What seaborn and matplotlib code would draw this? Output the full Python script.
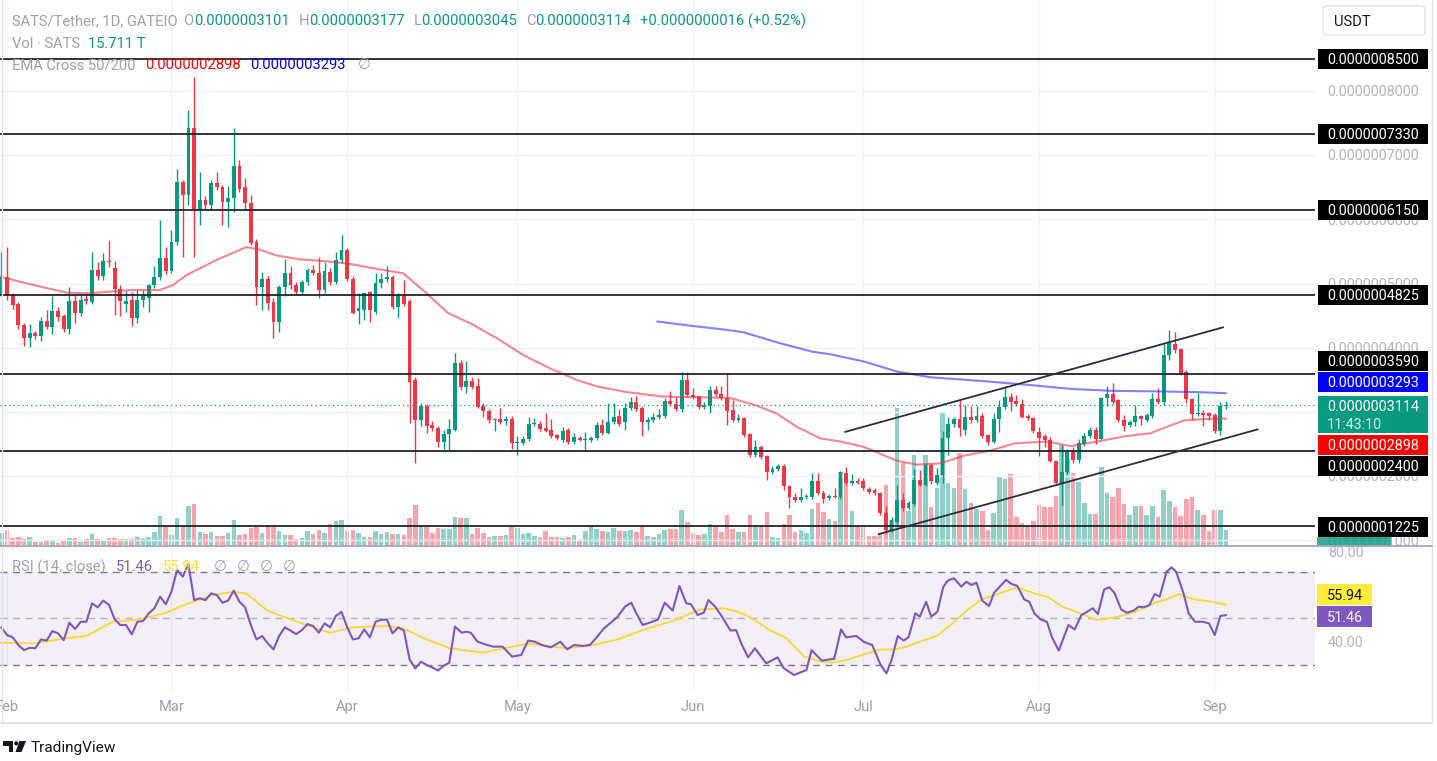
import numpy as np
import pandas as pd
import matplotlib
matplotlib.use("Agg")
import matplotlib.pyplot as plt
import seaborn as sns
from matplotlib.patches import Rectangle, FancyBboxPatch, Polygon, Circle
from matplotlib.font_manager import FontProperties

# ---------------- data ----------------
# SATS/USDT daily candles, prices in units of 1e-8 USDT.
# day 0 = 2024-02-01, first candle is day -1 (2024-01-31)
base_date = "2024-02-01"
opens = [48.2, 51.0, 48.2, 46.9, 43.6, 41.6, 42.3, 41.8, 44.2, 43.3,
         45.7, 44.9, 43.0, 47.3, 45.4, 47.6, 47.2, 52.1, 51.2, 53.5,
         52.5, 49.2, 46.9, 47.4, 44.6, 47.5, 47.7, 49.8, 51.1, 54.0,
         52.0, 56.5, 65.9, 63.8, 74.2, 61.7, 63.0, 62.2, 65.7, 65.0,
         62.7, 63.4, 68.3, 65.1, 62.6, 56.5, 49.5, 50.8, 47.2, 44.1,
         49.5, 51.7, 49.8, 48.7, 50.3, 52.2, 51.6, 49.0, 51.8, 50.3,
         53.7, 55.2, 50.8, 45.7, 45.9, 48.7, 45.6, 50.1, 50.8, 51.1,
         46.4, 48.0, 47.3, 35.0, 28.8, 30.9, 28.0, 27.5, 25.4, 26.6,
         27.2, 37.6, 33.9, 34.9, 34.0, 30.9, 30.2, 28.7, 28.9, 28.6,
         28.9, 25.2, 25.2, 25.8, 28.2, 28.2, 27.5, 27.2, 26.4, 25.7,
         27.2, 25.3, 25.9, 25.7, 25.7, 25.9, 28.0, 26.7, 28.5, 29.4,
         28.4, 30.6, 31.5, 30.6, 28.4, 28.8, 29.2, 29.4, 31.7, 31.3,
         30.4, 35.0, 32.7, 32.5, 30.8, 30.9, 33.5, 32.8, 32.2, 30.3,
         28.7, 29.0, 26.5, 23.3, 24.6, 23.1, 20.7, 21.1, 21.6, 18.5,
         16.8, 16.3, 16.7, 16.8, 19.3, 17.4, 16.6, 16.9, 16.8, 20.5,
         19.0, 19.2, 19.3, 18.0, 17.9, 17.4, 14.2, 11.6, 12.9, 16.3,
         15.0, 15.7, 19.4, 18.7, 21.8, 19.0, 20.2, 25.9, 28.1, 28.9,
         27.2, 29.3, 28.7, 29.4, 26.4, 25.4, 28.9, 30.8, 32.4, 31.7,
         31.3, 29.4, 29.0, 26.9, 26.2, 25.7, 22.4, 18.9, 20.7, 23.8,
         22.5, 25.0, 26.3, 27.2, 25.8, 32.2, 32.8, 31.9, 28.8, 28.0,
         28.4, 29.4, 28.8, 29.4, 32.0, 31.6, 38.9, 40.6, 39.8, 36.3,
         32.0, 29.7, 29.9, 29.8, 29.6, 27.0, 31.01]
highs = [55.0, 55.7, 48.6, 47.2, 43.9, 43.7, 42.6, 44.8, 45.9, 48.0,
         46.4, 45.3, 49.5, 48.2, 48.2, 48.5, 55.0, 53.4, 54.8, 56.8,
         53.6, 49.8, 48.9, 48.7, 49.0, 49.0, 50.0, 52.7, 59.9, 55.7,
         58.3, 67.8, 66.2, 77.1, 82.2, 67.4, 63.6, 66.2, 67.4, 65.4,
         65.2, 74.3, 69.3, 66.4, 63.8, 56.9, 51.8, 51.2, 47.7, 49.8,
         53.9, 52.8, 50.3, 50.6, 52.4, 52.9, 54.2, 53.4, 52.4, 54.9,
         57.6, 55.6, 51.2, 48.5, 48.6, 48.9, 51.6, 51.6, 52.7, 51.4,
         48.5, 50.5, 47.6, 35.5, 31.4, 31.2, 28.6, 27.8, 27.2, 28.9,
         39.2, 38.1, 38.0, 35.5, 35.3, 31.4, 30.5, 29.0, 30.6, 29.4,
         29.4, 26.2, 26.2, 29.3, 29.0, 28.6, 29.8, 28.9, 26.6, 27.7,
         27.5, 26.8, 26.2, 26.9, 26.3, 28.5, 28.9, 31.4, 31.4, 30.4,
         31.4, 32.4, 32.5, 30.9, 29.3, 29.9, 30.4, 32.2, 33.2, 32.4,
         36.2, 36.2, 33.7, 32.5, 31.6, 34.0, 34.0, 34.0, 36.0, 31.9,
         29.7, 29.3, 26.8, 25.6, 24.9, 23.3, 21.6, 21.9, 21.9, 18.7,
         17.4, 18.2, 17.2, 20.5, 20.5, 17.9, 17.3, 18.2, 20.8, 21.5,
         20.3, 19.7, 19.7, 18.3, 18.2, 17.5, 15.3, 13.7, 18.6, 17.4,
         16.1, 21.2, 21.0, 22.1, 22.1, 21.3, 27.0, 29.3, 29.3, 32.0,
         31.1, 31.0, 31.0, 29.9, 26.6, 29.8, 31.9, 34.1, 33.0, 32.7,
         32.0, 29.7, 29.3, 27.7, 26.5, 26.1, 22.4, 24.9, 24.2, 24.5,
         25.8, 26.7, 27.7, 27.6, 32.4, 34.0, 34.5, 32.1, 29.6, 28.8,
         31.1, 29.6, 29.9, 32.9, 33.7, 40.7, 42.8, 42.5, 40.0, 36.5,
         32.2, 33.0, 30.3, 30.0, 29.8, 31.6, 31.77]
lows = [48.0, 47.5, 46.1, 43.0, 40.3, 40.2, 41.3, 41.1, 43.0, 42.2,
        44.2, 42.4, 42.2, 43.8, 45.0, 46.8, 46.8, 50.5, 50.6, 52.6,
        45.1, 44.9, 45.6, 43.4, 43.8, 46.4, 45.6, 49.3, 50.6, 51.5,
        51.6, 56.0, 54.2, 62.2, 54.2, 59.1, 61.5, 61.5, 64.6, 59.1,
        58.9, 61.2, 64.3, 61.5, 56.0, 46.6, 45.9, 45.9, 41.6, 42.4,
        48.0, 49.2, 48.2, 48.2, 49.8, 51.3, 47.7, 48.6, 49.8, 49.9,
        53.2, 50.4, 45.2, 43.7, 44.3, 44.1, 45.3, 49.4, 50.2, 46.0,
        44.6, 46.5, 28.3, 22.1, 27.9, 26.7, 27.0, 24.6, 24.3, 24.1,
        27.0, 33.5, 32.9, 33.6, 30.6, 29.3, 28.3, 27.0, 28.2, 28.0,
        24.2, 23.3, 24.9, 25.5, 27.8, 27.0, 26.9, 26.0, 25.6, 25.4,
        25.0, 25.0, 25.5, 23.9, 25.4, 25.6, 26.4, 26.5, 28.2, 27.9,
        27.2, 30.3, 30.1, 26.3, 27.2, 28.5, 28.9, 29.1, 31.0, 30.1,
        30.0, 32.3, 32.0, 30.4, 30.5, 29.9, 32.5, 31.9, 28.0, 28.5,
        28.4, 26.1, 23.0, 23.0, 22.7, 19.4, 20.4, 20.8, 17.8, 15.0,
        16.0, 16.0, 16.4, 16.5, 17.1, 15.9, 16.3, 16.6, 16.5, 18.6,
        18.7, 18.8, 17.8, 17.3, 17.1, 14.0, 11.1, 11.3, 12.6, 14.6,
        14.7, 15.4, 18.4, 18.4, 18.8, 18.6, 18.9, 23.3, 27.7, 26.2,
        26.4, 28.3, 28.4, 26.0, 24.9, 25.2, 26.9, 30.5, 30.1, 31.0,
        29.0, 28.7, 26.8, 23.2, 24.6, 22.2, 18.7, 15.5, 20.3, 22.1,
        22.0, 24.7, 26.0, 25.0, 25.6, 31.0, 31.3, 28.5, 27.1, 27.6,
        27.9, 28.0, 28.5, 29.1, 31.3, 31.1, 38.1, 39.2, 35.8, 31.4,
        28.8, 29.4, 27.8, 28.8, 26.7, 26.4, 30.45]
closes = [51.1, 48.2, 46.7, 43.6, 41.5, 42.3, 41.8, 44.2, 43.3, 45.7,
          44.8, 43.0, 47.3, 45.4, 47.4, 47.3, 52.1, 51.2, 53.5, 53.3,
          49.2, 47.3, 47.3, 44.6, 47.5, 48.2, 49.8, 51.1, 54.0, 52.0,
          56.5, 65.9, 63.8, 74.2, 61.7, 63.0, 62.2, 65.7, 65.0, 62.7,
          63.4, 68.3, 64.8, 62.6, 56.4, 49.5, 50.8, 47.0, 44.1, 49.5,
          51.7, 49.8, 48.7, 50.3, 52.1, 51.6, 49.0, 52.0, 50.3, 53.7,
          55.3, 50.8, 45.5, 46.2, 48.5, 45.9, 50.1, 50.8, 51.1, 46.4,
          48.0, 46.9, 34.7, 28.8, 30.9, 27.9, 27.5, 25.4, 26.6, 27.3,
          37.6, 33.9, 34.9, 33.9, 30.8, 30.1, 28.7, 28.9, 28.5, 28.9,
          25.2, 25.4, 25.8, 28.2, 28.3, 27.3, 27.1, 26.3, 26.0, 27.1,
          25.3, 26.1, 25.7, 25.8, 26.0, 28.0, 26.7, 28.5, 29.3, 28.2,
          30.6, 31.5, 30.4, 28.4, 28.8, 29.3, 29.6, 31.7, 31.3, 30.4,
          35.0, 32.7, 32.4, 30.8, 31.1, 33.5, 32.8, 32.2, 30.2, 28.7,
          29.0, 26.4, 23.3, 24.6, 23.0, 20.7, 21.1, 21.6, 18.4, 16.8,
          16.3, 16.8, 16.9, 19.3, 17.4, 16.4, 16.9, 16.8, 20.6, 18.9,
          19.2, 19.0, 18.1, 17.6, 17.4, 14.2, 11.6, 13.2, 16.3, 15.0,
          15.8, 19.4, 18.7, 21.8, 19.2, 20.2, 25.9, 28.2, 28.9, 27.5,
          29.3, 28.7, 29.4, 26.3, 25.4, 28.9, 30.8, 32.4, 31.6, 31.3,
          29.3, 29.0, 27.0, 26.0, 25.6, 22.4, 18.9, 20.7, 23.8, 22.5,
          25.1, 26.3, 27.2, 25.8, 32.2, 32.8, 31.6, 28.8, 27.8, 28.5,
          29.4, 28.9, 29.6, 32.0, 31.6, 38.9, 40.7, 39.7, 36.1, 32.0,
          29.7, 29.9, 29.6, 29.4, 27.0, 31.0, 31.14]
volumes = [12.7, 16, 7.7, 8.7, 6.7, 8.7, 4.3, 4.3, 6, 6,
           3.3, 6, 7.7, 7.7, 4.3, 6.7, 11.7, 6.7, 6, 7.7,
           7.7, 6.7, 6.7, 6.7, 8.7, 7.7, 8.7, 13.7, 30, 19.3,
           11, 27.7, 19.3, 40, 42, 13.7, 11.7, 13.7, 10, 10,
           12.7, 26, 10.7, 11.7, 17.7, 19.3, 12.7, 21, 19.3, 15,
           10.7, 10.7, 6.7, 7.7, 15, 11.7, 16, 12.7, 22, 25,
           26, 15, 16, 12.7, 9.3, 8.7, 15, 11.7, 13.7, 11.7,
           11.7, 10.7, 28, 41, 20.7, 20.7, 12.7, 17.7, 16.7, 16.7,
           29.3, 28.3, 28.3, 11.7, 17.7, 12.7, 8.7, 10, 10, 11,
           19.3, 18.3, 12, 12.7, 10, 8.7, 15, 8.7, 8.7, 7.7,
           8.7, 11, 6, 15, 20.7, 17.3, 15, 14, 18.3, 15,
           15, 16, 14, 20.7, 10, 8.7, 11.7, 16, 16.7, 16.7,
           36, 24, 12.7, 11, 12, 22, 20.7, 14, 31, 16.7,
           14, 14, 31, 19.3, 19.3, 34, 8.7, 7.7, 21.7, 31,
           14, 16, 12.7, 37.3, 42.7, 34, 26.7, 25.3, 74, 72.7,
           35.3, 19.3, 19.3, 10, 10, 12, 61, 26, 137.7, 82.7,
           35.3, 91, 61, 91, 38.7, 57.7, 132.7, 63.3, 57.7, 93.3,
           56.7, 42.7, 36.7, 35.3, 16, 32.7, 69.3, 66.7, 72, 28.7,
           23.3, 19.3, 25.3, 41, 39.3, 39.3, 50, 101, 86.7, 72.7,
           64.3, 43.3, 32, 32, 78.7, 53.3, 49.3, 57.7, 42, 31,
           40, 40, 31, 40, 29.3, 56, 45, 39.3, 30, 46.7,
           49.3, 36, 31, 15.3, 36, 36, 15.711]

ema50_day = [-1.3, 4.6, 10.5, 14.3, 22, 27, 29.3, 31.6, 37, 42.2, 44.6, 47.5, 51.6,
             57.5, 61, 64.6, 69.9, 74, 77.8, 82, 86.4, 91, 95.8, 100.5, 104, 109.3,
             115.8, 122.2, 127.5, 132.2, 135.7, 139.3, 143.4, 147, 151, 157, 160.5,
             164.6, 168.8, 173.5, 177.6, 183.5, 187.6, 192.3, 197, 201.7, 204, 207.6,
             211.1, 215]
ema50_val = [51.1, 49.8, 48.6, 48.5, 49.0, 49.0, 49.8, 51.3, 53.7, 55.7, 55.3, 54.4, 53.8,
             53.4, 53.0, 52.4, 51.6, 48.5, 45.4, 43.7, 41.5, 38.9, 36.8, 35.0, 34.0, 33.1,
             32.4, 32.3, 32.2, 31.0, 29.8, 27.7, 25.9, 25.4, 24.6, 22.4, 21.8,
             22.0, 23.2, 24.0, 25.1, 25.4, 24.7, 25.4, 26.2, 26.7, 27.5, 28.7,
             28.9, 28.98]
ema200_day = [114.7, 121, 127, 130, 136, 142, 145.2, 151, 157, 163, 171.7, 180.5, 187.6,
              195, 204, 210, 215]
ema200_val = [44.1, 43.4, 42.8, 42.4, 40.8, 39.4, 39.0, 37.9, 36.3, 35.4, 34.85, 34.2, 33.6,
              33.3, 33.2, 33.1, 32.93]

rsi_day = list(range(-1, 79)) + [
    79, 80.2, 81, 81.8, 83, 84.7, 85.8, 87.4, 89.1, 90.7, 91.9, 93.1, 94.3, 95.9, 97.6,
    98.8, 100, 101.6, 102.8, 104, 105.3, 106.5, 107.7, 109, 110.1, 111, 112.1, 113.8,
    114.8, 116, 117.4, 118.6, 119.8, 120.6, 121.8, 122.9, 123.7, 124.9, 126.1, 127.6,
    128.6, 129.5, 130.7, 131.9, 133.9, 135.9, 137, 138.8, 141, 141.9, 143.7, 145.9,
    147.1, 148, 149.8, 151.1, 152.6, 154, 155.1, 156, 157.1, 158.1, 159, 160.2, 161,
    162.1, 163, 164.1, 165.1, 165.9, 167, 168.3, 169.2, 170.1, 171, 172, 173.2, 174.1,
    175.2, 176.2, 177.2, 178.2, 179.4, 180.3, 181.2, 182.3, 183.4, 184.3, 185.5, 187.2,
    188.3, 189.5, 190.5, 191.5, 192.4, 193.5, 194.4, 195.3, 196.5, 197.5, 198.7, 199.6,
    200.5, 201.5, 202.4, 203.3, 204.5, 205.4, 206.2, 207.5, 208.4, 209.5, 210.9, 212,
    213, 214, 215]
rsi_val = [46.2, 42.9, 41.9, 38.6, 36.4, 37.4, 37.2, 41.0, 40.5, 44.6, 43.6, 40.7, 48.2,
           45.5, 48.6, 48.6, 56.5, 54.8, 57.7, 55.8, 49.6, 47.2, 47.2, 43.2, 48.6, 48.9,
           52.2, 54.4, 59.4, 56.1, 61.5, 70.9, 68.0, 73.4, 57.9, 58.7, 57.9, 60.8, 60.1,
           56.8, 57.7, 62.0, 57.2, 54.8, 47.2, 41.0, 42.5, 39.3, 36.7, 42.5, 46.2, 44.8,
           43.3, 45.0, 47.6, 46.8, 43.9, 47.9, 46.2, 51.1, 52.9, 46.2, 41.0, 41.5, 45.3,
           41.9, 48.6, 49.4, 49.6, 43.6, 46.2, 44.8, 32.4, 28.5, 31.4, 30.0, 29.0, 27.6,
           29.6, 31.0,
           46.5, 43.9, 44.3, 43.9, 40.0, 38.6, 37.9, 37.9, 33.6, 34.3, 40.5, 40.0, 38.6,
           37.6, 40.0, 36.7, 38.6, 38.2, 38.6, 41.9, 45.8, 48.2, 50.8, 55.1, 56.8, 52.2,
           47.2, 48.6, 49.5, 56.8, 53.4, 64.0, 56.5, 56.2, 51.5, 52.5, 57.9, 55.1, 50.8,
           44.8, 45.0, 39.3, 33.3, 37.2, 30.7, 33.3, 28.6, 25.7, 27.8, 36.4, 31.9, 32.7,
           45.3, 41.9, 42.5, 40.0, 38.6, 30.4, 26.4, 32.1, 42.5, 40.5, 41.9, 52.2, 50.8,
           57.2, 50.8, 52.9, 63.4, 66.3, 67.3, 63.7, 65.8, 64.4, 65.4, 57.7, 55.4, 61.1,
           64.0, 66.6, 64.8, 64.0, 58.2, 57.2, 52.2, 49.6, 48.6, 41.9, 36.2, 47.2,
           45.3, 51.5, 52.9, 54.4, 51.9, 62.5, 63.4, 61.1, 53.9, 52.5, 53.4, 55.1,
           54.8, 55.8, 60.5, 59.4, 70.1, 72.0, 70.1, 60.8, 52.2, 48.6, 48.6, 47.9,
           42.9, 51.1, 51.46]
rsi_ma_day = [-1.3, 4.6, 10.5, 14, 18.7, 23.4, 28.1, 31.6, 36.4, 39.9, 42.2, 45.8, 48.7,
              52.8, 56.9, 61.1, 66.9, 69.9, 74, 78.1, 83.9, 92, 98.4, 102.5, 107.3, 112.1,
              117.8, 122.2, 126.4, 128.9, 131.4, 134.5, 137.5, 140.6, 143.7, 145.5, 148,
              151.7, 154.1, 156.6, 159, 161.5, 164, 166.4, 169.5, 171.9, 175, 178.2, 181.2,
              183.7, 186.1, 188.6, 192.3, 196, 199.1, 202.1, 204.5, 206.7, 209.4, 212.5, 215]
rsi_ma_val = [39.6, 39.3, 41.5, 42.5, 48.6, 49.6, 52.5, 56.2, 60.1, 61.5, 60.8, 53.6, 50.8,
              47.2, 43.9, 46.2, 46.8, 45.8, 41.0, 37.2, 35.3, 39.3, 37.2, 38.2, 40.7, 45.0,
              49.3, 53.9, 54.4, 52.9, 50.1, 45.0, 41.5, 33.6, 31.4, 31.0, 32.1,
              35.0, 36.7, 36.7, 38.2, 40.5, 42.5, 47.2, 53.9, 58.2, 60.8, 63.4, 60.8,
              59.1, 55.1, 52.9, 49.3, 50.8, 52.9, 56.5, 58.2, 60.5, 58.2, 57.2, 55.94]

levels = [85.0, 73.3, 61.5, 48.25, 35.9, 24.0, 12.25]
channel_upper_day = [147.8, 214.5]
channel_upper_price = [26.9, 43.2]
channel_lower_day = [153.7, 220.6]
channel_lower_price = [10.97, 27.3]
last_price = 31.14
ema50_last, ema200_last = 28.98, 32.93
rsi_last, rsi_ma_last = 51.46, 55.94
price_ticks = [80, 70, 60, 50, 40, 20, 10]
month_starts = pd.date_range("2024-02-01", "2024-09-01", freq="MS")
month_labels = [d.strftime("%b") for d in month_starts]

# ---------------- style ----------------
sns.set_theme(style="white")
FONT = ["Roboto", "DejaVu Sans"]
plt.rcParams["font.family"] = FONT
GREEN, RED = "#089981", "#f23645"
GRAY_TXT = "#9ea1aa"

W, H = 1437, 761
fig = plt.figure(figsize=(W / 100, H / 100), dpi=100)
fig.patch.set_facecolor("white")


def rect(x0, y0, x1, y1):
    return [x0 / W, 1 - y1 / H, (x1 - x0) / W, (y1 - y0) / H]


PANE_R, MAIN_B, RSI_B = 1315, 546, 690
PX_DAY, X0 = 5.67, 7.0
xlim = ((0 - X0) / PX_DAY, (PANE_R - X0) / PX_DAY)

ax_vol = fig.add_axes(rect(0, 0, PANE_R, MAIN_B))
ax = fig.add_axes(rect(0, 0, PANE_R, MAIN_B))
ax_rsi = fig.add_axes(rect(0, MAIN_B, PANE_R, RSI_B))
ov = fig.add_axes([0, 0, 1, 1])
ax_vol.set_zorder(1)
ax.set_zorder(2)
ax_rsi.set_zorder(2)
ov.set_zorder(5)
for a in (ax_vol, ax, ax_rsi, ov):
    a.set_axis_off()
    a.patch.set_alpha(0)
ov.set_xlim(0, W)
ov.set_ylim(H, 0)

ax.set_xlim(*xlim)
ax_vol.set_xlim(*xlim)
ax_rsi.set_xlim(*xlim)
ax.set_ylim(9.128, 94.19)
ax_vol.set_ylim(0, 546)
ax_rsi.set_ylim(19.25, 81.18)

days = np.arange(len(opens)) - 1
O, Hh, L, C = map(np.array, (opens, highs, lows, closes))
cols = np.where(C >= O, GREEN, RED)
month_days = [(d - pd.Timestamp(base_date)).days for d in month_starts]

# grid
for md in month_days:
    ax.axvline(md, color="#f0f3fa", lw=1, zorder=0)
    ax_rsi.axvline(md, color="#f0f3fa", lw=1, zorder=0)
for pt in price_ticks + [30]:
    ax.axhline(pt, color="#f0f3fa", lw=1, zorder=0)

# volume
ax_vol.bar(days, volumes, width=0.8, color=cols, alpha=0.45, linewidth=0)

# candles
ax.vlines(days, L, Hh, colors=cols, lw=1.0, zorder=3)
ax.bar(days, np.maximum(np.abs(C - O), 0.16), bottom=np.minimum(O, C), width=0.68,
       color=cols, linewidth=0, zorder=4)

# EMAs
sns.lineplot(x=ema50_day, y=ema50_val, ax=ax, color="#f23645", alpha=0.6, linewidth=1.5,
             zorder=5)
sns.lineplot(x=ema200_day, y=ema200_val, ax=ax, color="#3535ff", alpha=0.62, linewidth=1.5,
             zorder=5)

# horizontal levels, current price line, channel
ax.hlines(levels, xlim[0], xlim[1], colors="#202329", lw=1.3, zorder=6)
ax.axhline(last_price, color=GREEN, lw=0.9, ls=(0, (1, 2.5)), zorder=6)
ax.plot(channel_upper_day, channel_upper_price, color="#2a2e39", lw=1.3, zorder=6)
ax.plot(channel_lower_day, channel_lower_price, color="#2a2e39", lw=1.3, zorder=6)

# RSI pane
ax_rsi.axhspan(30, 70, color="#7e57c2", alpha=0.09, lw=0, zorder=0)
ax_rsi.axhline(70, color="#787b86", lw=1, dashes=(5, 4))
ax_rsi.axhline(30, color="#787b86", lw=1, dashes=(5, 4))
ax_rsi.axhline(50, color="#b2b5be", lw=1, dashes=(5, 4))
rd, rv = np.array(rsi_day, float), np.array(rsi_val, float)
ax_rsi.fill_between(rd, rv, 30, where=rv < 30, interpolate=True, color="#f23645",
                    alpha=0.1, lw=0)
ax_rsi.fill_between(rd, rv, 70, where=rv > 70, interpolate=True, color="#089981",
                    alpha=0.1, lw=0)
sns.lineplot(x=rsi_ma_day, y=rsi_ma_val, ax=ax_rsi, color="#fdd835", linewidth=1.3)
sns.lineplot(x=rd, y=rv, ax=ax_rsi, color="#7e57c2", linewidth=1.5)

# ---------------- overlay texts ----------------
fig.canvas.draw()
R = fig.canvas.get_renderer()


def tw(txt, size):
    fp = FontProperties(family=FONT, size=size)
    return R.get_text_width_height_descent(txt, fp, ismath=False)[0]


def ptxt(x, y, txt, size, color, ha="left", z=4, **kw):
    cap = 0.36 * size * 100 / 72
    return ov.text(x, y + cap, txt, fontsize=size, color=color, ha=ha, va="baseline",
                   zorder=z, **kw)


def seq(pieces, x, y, size):
    for txt, color, gap in pieces:
        ptxt(x, y, txt, size, color)
        x += tw(txt, size) + gap


def fit_size(pieces, target, base=10):
    tot = sum(tw(t, base) for t, _, _ in pieces)
    gaps = sum(g for _, _, g in pieces[:-1])
    return base * (target - gaps) / tot


def py_main(p):
    return H - ax.transData.transform((0, p))[1]


def py_rsi(v):
    return H - ax_rsi.transData.transform((0, v))[1]


def px_day(d):
    return ax.transData.transform((d, 0))[0]


def box(x, y, w, h, color, z=2, **kw):
    ov.add_patch(Rectangle((x, y), w, h, facecolor=color, edgecolor="none", zorder=z, **kw))


fmt = lambda v: f"{v * 1e-8:.10f}"
TEAL_T = "#089981"
line1 = [("SATS/Tether, 1D, GATEIO", GRAY_TXT, 6), ("O", GRAY_TXT, 0),
         (fmt(opens[-1]), TEAL_T, 9), ("H", GRAY_TXT, 0), (fmt(highs[-1]), TEAL_T, 9),
         ("L", GRAY_TXT, 0), (fmt(lows[-1]), TEAL_T, 9), ("C", GRAY_TXT, 0),
         (fmt(closes[-1]), TEAL_T, 9),
         ("+0.0000000016 (+0.52%)", TEAL_T, 0)]
HS = fit_size(line1, 785)
seq(line1, 12, 20, HS)
seq([("Vol · SATS", GRAY_TXT, 8), (f"{volumes[-1]:.3f} T", TEAL_T, 0)], 12, 43, HS)
seq([("EMA Cross 50/200", GRAY_TXT, 10), (fmt(ema50_last), "#ff0000", 9),
     (fmt(ema200_last), "#0000ff", 12), ("∅", GRAY_TXT, 0)], 12, 64, HS)
seq([("RSI (14, close)", GRAY_TXT, 10), (f"{rsi_last:.2f}", "#7e57c2", 10),
     (f"{rsi_ma_last:.2f}", "#fdd835", 14), ("∅", GRAY_TXT, 10), ("∅", GRAY_TXT, 10),
     ("∅", GRAY_TXT, 10), ("∅", GRAY_TXT, 0)], 12, 566, HS)

# month labels
for md, lab in zip(month_days, month_labels):
    ptxt(px_day(md), 706, lab, HS, GRAY_TXT, ha="center")

# price scale grey labels (drawn under the tag boxes)
LS = 10.4
for pt in price_ticks:
    ptxt(1373, py_main(pt), fmt(pt), LS, "#b2b5be", ha="center", z=1)
ptxt(1346, py_rsi(40), "40.00", LS, "#b2b5be", ha="center", z=1)
ptxt(1346, py_rsi(80) + 3, "80.00", LS, "#b2b5be", ha="center", z=1)

# volume tag (mostly hidden)
box(1317, 537, 74, 9, "#089981", alpha=0.8)


def tag(y, txt, bg, fg="white", x0=1318, x1=1428, h=20):
    box(x0, y - h / 2, x1 - x0, h, bg)
    ptxt((x0 + x1) / 2, y, txt, LS, fg, ha="center")


tag_pos = {85.0: None, 73.3: None, 61.5: None, 48.25: None, 35.9: 361, 24.0: 466,
           12.25: 527}
for lv in levels:
    y = tag_pos[lv] if tag_pos[lv] is not None else py_main(lv)
    tag(y, fmt(lv), "#000000")
tag(382, fmt(ema200_last), "#0000ff")
tag(445, fmt(ema50_last), "#ff0000")
box(1318, 396, 110, 37, "#089981")
ptxt(1373, 405.5, fmt(last_price), LS, "white", ha="center")
ptxt(1373 - tw(fmt(last_price), LS) / 2, 423.5, "11:43:10", LS, "#d8f0ea")

# RSI tags (stacked so they do not overlap, as in the reference)
box(1317, 584, 55, 21, "#ffeb3b")
ptxt(1344.5, 594.5, f"{rsi_ma_last:.2f}", LS, "#131722", ha="center")
box(1317, 606, 55, 21, "#7e57c2")
ptxt(1344.5, 616.5, f"{rsi_last:.2f}", LS, "white", ha="center")

# frame lines
ov.plot([0, 1432], [546, 546], color="#a6a9b2", lw=1.3, zorder=3)
ov.plot([1.5, 1.5], [0, 722], color="#e0e3eb", lw=1)
ov.plot([1432, 1432], [0, 722], color="#e0e3eb", lw=1)
ov.plot([0, 1432], [722.5, 722.5], color="#e0e3eb", lw=1.5)

# USDT button
ov.add_patch(FancyBboxPatch((1323, 6), 102, 29, boxstyle="round,pad=0,rounding_size=4",
                            facecolor="white", edgecolor="#e0e3eb", lw=1, zorder=2))
ptxt(1334, 20.5, "USDT", HS, "#131722")

# TradingView logo
ov.add_patch(Polygon([(3, 741), (13, 741), (13, 752), (8.5, 752), (8.5, 745.5), (3, 745.5)],
                     closed=True, facecolor="#131722", edgecolor="none"))
ov.add_patch(Circle((16.3, 743.3), 2.1, facecolor="#131722", edgecolor="none"))
ov.add_patch(Polygon([(19.5, 741), (26, 741), (21.5, 752), (15.5, 752)], closed=True,
                     facecolor="#131722", edgecolor="none"))
ptxt(31, 746, "TradingView", HS * 1.05, "#131722")

fig.savefig("out.png", dpi=100, facecolor="white")
